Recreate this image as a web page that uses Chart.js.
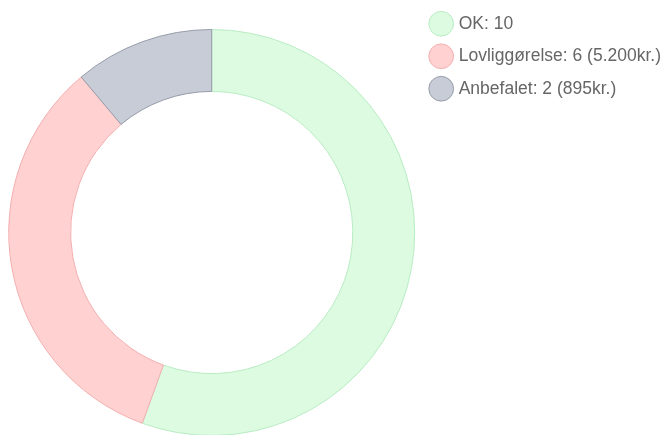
<!DOCTYPE html>
<html>
<head>
<meta charset="utf-8">
<script src="https://cdn.jsdelivr.net/npm/chart.js@4"></script>
<style>
  html, body { margin: 0; padding: 0; background: #fff; overflow: hidden; }
  #wrap { width: 664px; height: 465px; }
</style>
</head>
<body>
<div id="wrap"><canvas id="statusCanvas"></canvas></div>
<script>
const labels = ['OK: 10', 'Lovliggørelse: 6 (5.200kr.)', 'Anbefalet: 2 (895kr.)'];
const counts = [10, 6, 2];
const fillColors = ['rgb(220, 251, 225)', 'rgb(255, 209, 209)', 'rgb(200, 204, 214)'];
const lineColors = ['rgb(185, 236, 195)', 'rgb(244, 175, 175)', 'rgb(150, 156, 170)'];

const ctx = document.getElementById('statusCanvas').getContext('2d');

new Chart(ctx, {
    type: 'doughnut',
    data: {
        labels: labels,
        datasets: [{
            data: counts,
            backgroundColor: fillColors,
            borderColor: lineColors,
            borderWidth: 1
        }]
    },
    options: {
        responsive: true,
        maintainAspectRatio: false,
        animation: false,
        radius: 203,
        cutout: '69.5%',
        layout: { padding: { left: 6, right: -7 } },
        plugins: {
            tooltip: { enabled: false },
            legend: {
                position: 'right',
                align: 'start',
                labels: {
                    usePointStyle: true,
                    pointStyle: 'circle',
                    color: '#666',
                    font: { family: 'Liberation Sans, Arial, sans-serif', size: 17.5 },
                    padding: 15
                }
            }
        }
    }
});
</script>
</body>
</html>
